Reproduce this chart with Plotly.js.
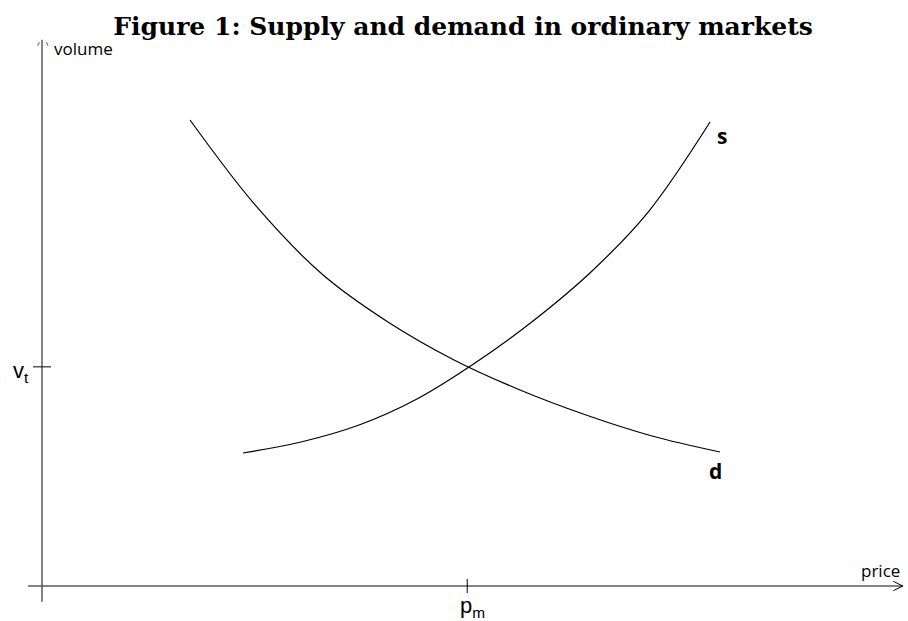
<!DOCTYPE html>
<html>
<head>
<meta charset="utf-8">
<script src="https://cdn.plot.ly/plotly-3.0.1.min.js"></script>
<style>
  html, body { margin: 0; padding: 0; background: #fff; }
  #chart { width: 908px; height: 621px; }
</style>
</head>
<body>
<div id="chart"></div>
<script>
// demand curve (price, volume)
var demandPrice  = [1.709, 2.471, 3.233, 3.995, 4.758, 5.520, 6.282, 7.044, 7.829];
var demandVolume = [7.952, 6.485, 5.324, 4.505, 3.857, 3.345, 2.918, 2.560, 2.287];

// supply curve (price, volume)
var supplyPrice  = [2.321, 2.991, 3.661, 4.330, 5.000, 5.670, 6.339, 7.009, 7.714];
var supplyVolume = [2.270, 2.457, 2.747, 3.191, 3.805, 4.522, 5.358, 6.399, 7.918];

// equilibrium marks on the axes
var pm = 4.91;
var vt = 3.74;

var axisColor = '#5a5a5a';
var labelFont = {family: 'Open Sans, sans-serif', size: 17, color: '#000'};
var markFont = {family: 'Liberation Sans, Arial, sans-serif', size: 22, color: '#000'};
var curveFont = {family: 'Open Sans, sans-serif', size: 21, color: '#000', weight: 'bold'};

var demand = {
  x: demandPrice, y: demandVolume,
  mode: 'lines', type: 'scatter',
  line: {color: '#000', width: 1.2, shape: 'spline', smoothing: 1},
  hoverinfo: 'skip'
};
var supply = {
  x: supplyPrice, y: supplyVolume,
  mode: 'lines', type: 'scatter',
  line: {color: '#000', width: 1.2, shape: 'spline', smoothing: 1},
  hoverinfo: 'skip'
};

var layout = {
  width: 908, height: 621,
  margin: {l: 0, r: 0, t: 0, b: 0},
  paper_bgcolor: '#fff', plot_bgcolor: '#fff',
  showlegend: false,
  title: {
    text: 'Figure 1: Supply and demand in ordinary markets',
    font: {family: 'DejaVu Serif, serif', size: 25, color: '#000', weight: 'bold'},
    x: 0.51, xanchor: 'center',
    y: 0.958, yref: 'container', yanchor: 'middle'
  },
  xaxis: {range: [-0.485, 10.0], visible: false, fixedrange: true},
  yaxis: {range: [-0.597, 10.0], visible: false, fixedrange: true},
  shapes: [
    // axes
    {type: 'line', x0: 0, x1: 0, y0: -0.27, y1: 9.32, line: {color: axisColor, width: 1.5}},
    {type: 'line', x0: -0.16, x1: 9.94, y0: 0, y1: 0, line: {color: axisColor, width: 1.5}},
    {type: 'path', path: 'M 9.83,0.08 L 9.94,0 L 9.83,-0.08', line: {color: '#000', width: 1}},
    {type: 'path', path: 'M -0.05,9.22 L -0.03,9.28', line: {color: axisColor, width: 1}},
    {type: 'path', path: 'M 0.05,9.28 L 0.07,9.22', line: {color: axisColor, width: 1}},
    // equilibrium ticks
    {type: 'line', x0: -0.104, x1: 0.104, y0: vt, y1: vt, line: {color: '#000', width: 1}},
    {type: 'line', x0: pm, x1: pm, y0: -0.12, y1: 0.12, line: {color: '#000', width: 1}}
  ],
  annotations: [
    {x: 0.11, y: 9.17, text: 'volume', showarrow: false, xanchor: 'left', yanchor: 'middle', font: labelFont},
    {x: 9.68, y: 0.27, text: 'price', showarrow: false, xanchor: 'center', yanchor: 'middle', font: labelFont},
    {x: -0.24, y: vt - 0.08, text: 'v<sub>t</sub>', showarrow: false, xanchor: 'center', yanchor: 'middle', font: markFont},
    {x: pm + 0.06, y: -0.36, text: 'p<sub>m</sub>', showarrow: false, xanchor: 'center', yanchor: 'middle', font: markFont},
    {x: 7.85, y: 7.68, text: 's', showarrow: false, xanchor: 'center', yanchor: 'middle', font: curveFont},
    {x: 7.78, y: 1.96, text: 'd', showarrow: false, xanchor: 'center', yanchor: 'middle', font: curveFont}
  ]
};

Plotly.newPlot('chart', [demand, supply], layout, {displayModeBar: false, staticPlot: true});
</script>
</body>
</html>
